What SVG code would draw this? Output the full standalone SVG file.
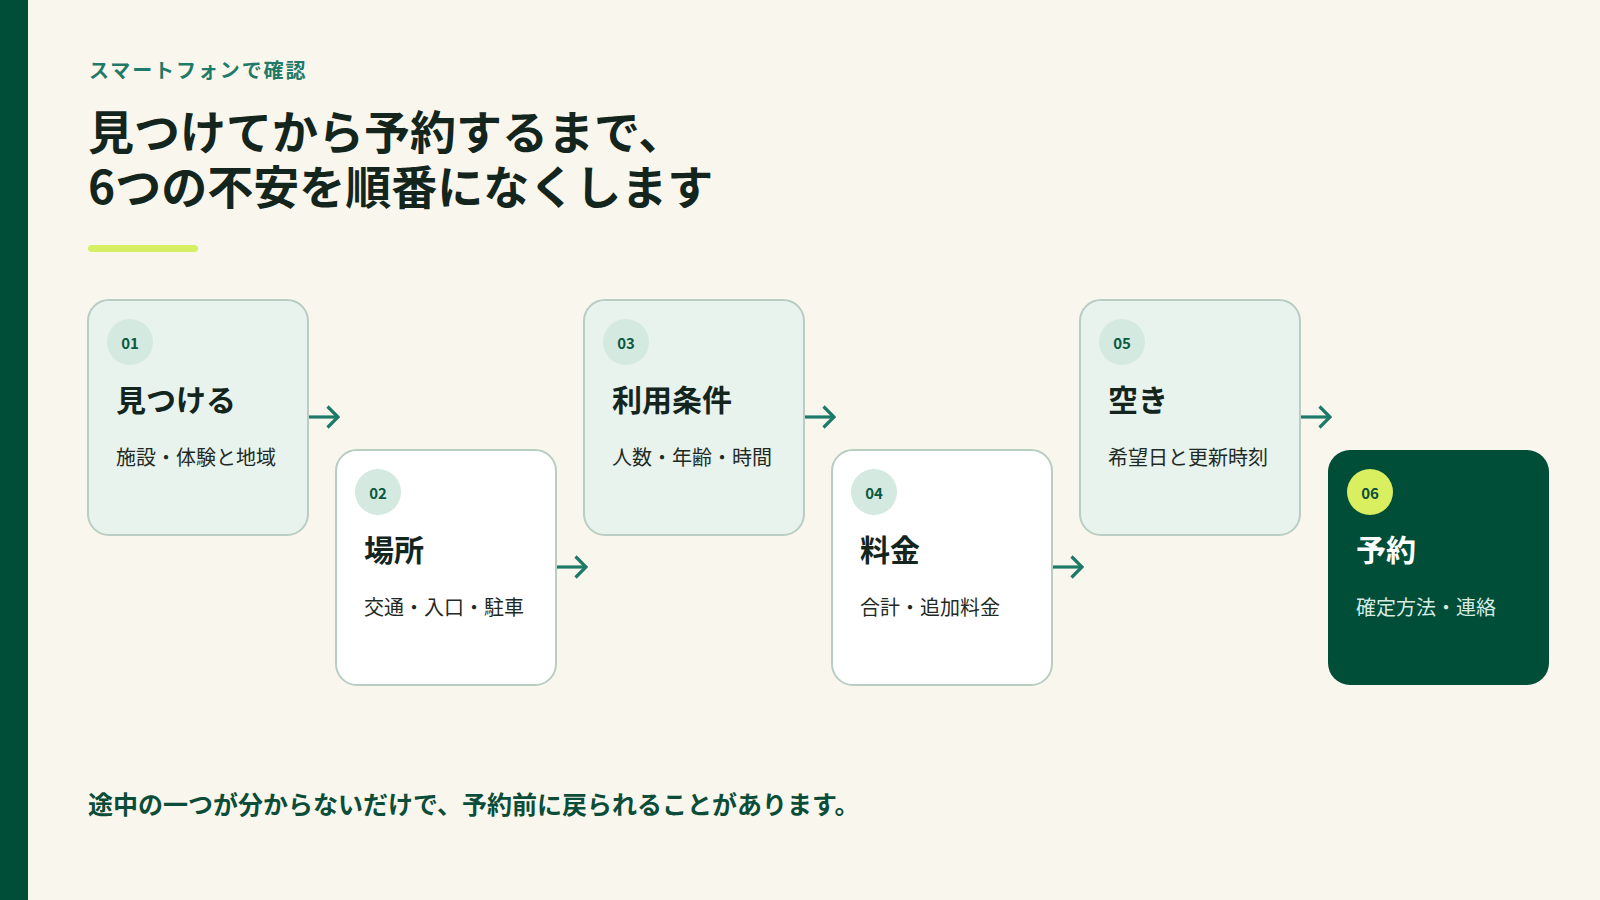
<svg xmlns="http://www.w3.org/2000/svg" width="1600" height="900" viewBox="0 0 1600 900">
<defs>
<style>
text{font-family:"Noto Sans CJK JP","Noto Sans",sans-serif;}
.eyebrow{font-size:20px;font-weight:700;fill:#1f7a68;letter-spacing:1.9px;}
.headline{font-size:46px;font-weight:700;fill:#13251c;}
.note{font-size:25px;font-weight:700;fill:#0b4d38;}
.card{stroke:#b9cdc3;stroke-width:2;}
.card.light{fill:#e8f3ee;}
.card.white{fill:#ffffff;}
.card.dark{fill:#004d38;stroke:none;}
.badge{fill:#d4e9e0;}
.badge.hi{fill:#d9ef60;}
.num{font-size:15px;font-weight:700;fill:#0b5a40;text-anchor:middle;}
.num.hi{fill:#0b4d38;}
.title{font-size:30px;font-weight:700;fill:#13251c;}
.title.inv{fill:#ffffff;}
.sub{font-size:20px;font-weight:400;fill:#1f2a24;}
.sub.inv{fill:#d6ebe1;}
.conn{fill:none;stroke:#1d7a68;stroke-width:3.2;stroke-linecap:butt;stroke-linejoin:miter;}
</style>
<marker id="arr" viewBox="0 0 14 24" refX="12" refY="12" markerWidth="14" markerHeight="24" markerUnits="userSpaceOnUse" orient="auto">
<path d="M1.5 1.5 L12 12 L1.5 22.5" fill="none" stroke="#1d7a68" stroke-width="3.2"/>
</marker>
</defs>
<rect x="0" y="0" width="1600" height="900" fill="#f9f7ed"/>
<rect x="0" y="0" width="28" height="900" fill="#004d38"/>

<g id="header">
<text class="eyebrow" x="89" y="78">スマートフォンで確認</text>
<text class="headline" x="88" y="149">見つけてから予約するまで、</text>
<text class="headline" x="88" y="204">6つの不安を順番になくします</text>
<rect x="88" y="245" width="110" height="7" rx="3.5" fill="#d7ef62"/>
</g>

<g id="connectors">
<path class="conn" d="M308 417 H338" marker-end="url(#arr)"/>
<path class="conn" d="M556 567 H586" marker-end="url(#arr)"/>
<path class="conn" d="M804 417 H834" marker-end="url(#arr)"/>
<path class="conn" d="M1052 567 H1082" marker-end="url(#arr)"/>
<path class="conn" d="M1300 417 H1330" marker-end="url(#arr)"/>
</g>

<g id="step01">
<rect class="card light" x="88" y="300" width="220" height="235" rx="21"/>
<circle class="badge" cx="130" cy="342" r="23"/>
<text class="num" x="130" y="349">01</text>
<text class="title" x="116" y="411">見つける</text>
<text class="sub" x="116" y="465">施設・体験と地域</text>
</g>

<g id="step02">
<rect class="card white" x="336" y="450" width="220" height="235" rx="21"/>
<circle class="badge" cx="378" cy="492" r="23"/>
<text class="num" x="378" y="499">02</text>
<text class="title" x="364" y="561">場所</text>
<text class="sub" x="364" y="615">交通・入口・駐車</text>
</g>

<g id="step03">
<rect class="card light" x="584" y="300" width="220" height="235" rx="21"/>
<circle class="badge" cx="626" cy="342" r="23"/>
<text class="num" x="626" y="349">03</text>
<text class="title" x="612" y="411">利用条件</text>
<text class="sub" x="612" y="465">人数・年齢・時間</text>
</g>

<g id="step04">
<rect class="card white" x="832" y="450" width="220" height="235" rx="21"/>
<circle class="badge" cx="874" cy="492" r="23"/>
<text class="num" x="874" y="499">04</text>
<text class="title" x="860" y="561">料金</text>
<text class="sub" x="860" y="615">合計・追加料金</text>
</g>

<g id="step05">
<rect class="card light" x="1080" y="300" width="220" height="235" rx="21"/>
<circle class="badge" cx="1122" cy="342" r="23"/>
<text class="num" x="1122" y="349">05</text>
<text class="title" x="1108" y="411">空き</text>
<text class="sub" x="1108" y="465">希望日と更新時刻</text>
</g>

<g id="step06">
<rect class="card dark" x="1328" y="450" width="221" height="235" rx="22"/>
<circle class="badge hi" cx="1370" cy="492" r="23"/>
<text class="num hi" x="1370" y="499">06</text>
<text class="title inv" x="1356" y="561">予約</text>
<text class="sub inv" x="1356" y="615">確定方法・連絡</text>
</g>

<g id="footer">
<text class="note" x="88" y="814">途中の一つが分からないだけで、予約前に戻られることがあります。</text>
</g>
</svg>
